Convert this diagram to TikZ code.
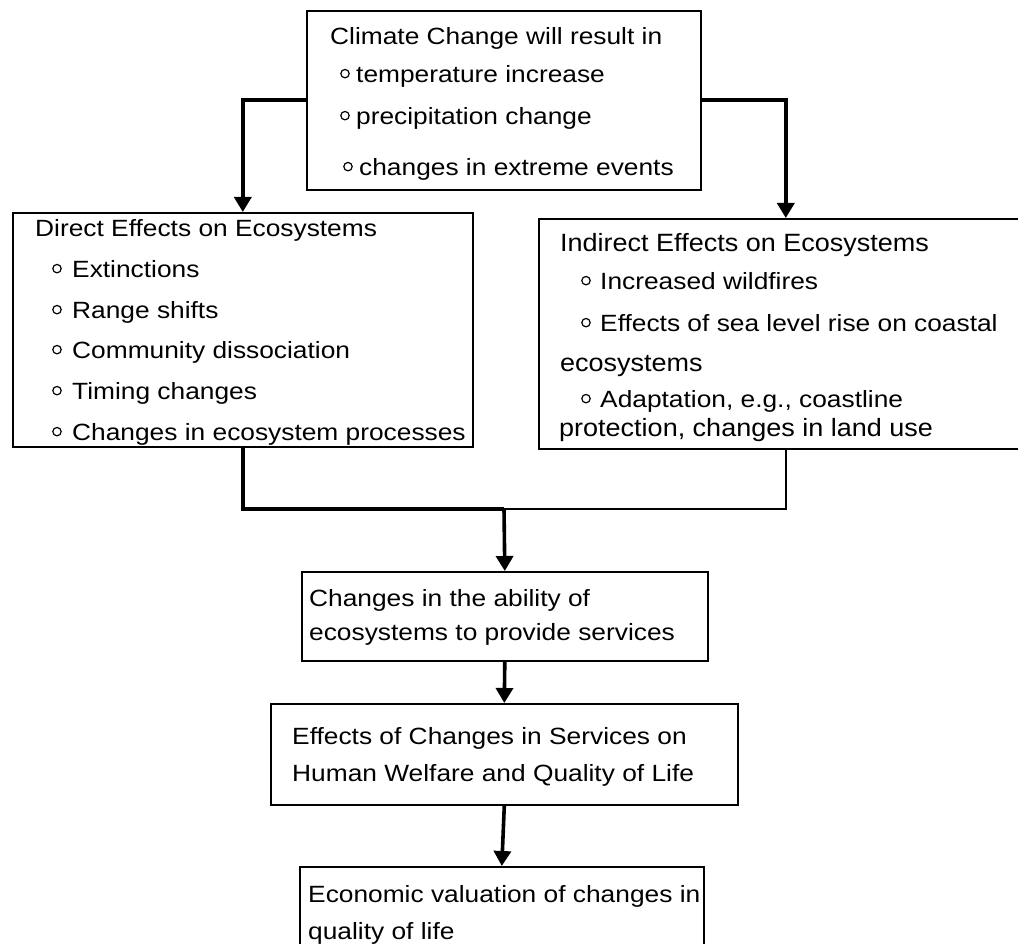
\documentclass[tikz,border=0pt]{standalone}
\usepackage{fontspec}
\setmainfont{Liberation Sans}[FakeStretch=1.12]
\newfontfamily\condfont{Liberation Sans}[FakeStretch=1.08]
\usetikzlibrary{positioning}
\usetikzlibrary{arrows.meta}

\newcommand{\bul}[1][20pt]{\makebox[#1][l]{\tikz[baseline=-9pt]\draw[line width=1.2pt] (4.8pt,0) circle[radius=4.2pt];}}

\tikzset{
  box/.style={draw, line width=1.6pt, anchor=north west, inner sep=0pt},
  txt/.style={anchor=mid west, inner sep=0pt, font=\fontsize{23.5}{28}\selectfont},
  cond/.style={anchor=mid west, inner sep=0pt, font=\condfont\fontsize{25}{30}\selectfont},
  conn/.style={line width=3.6pt},
  thinconn/.style={line width=1.6pt},
  tip/.style={-{Triangle[width=17pt,length=15pt]}}
}

\begin{document}
\begin{tikzpicture}[x=1pt,y=-1pt]
\useasboundingbox (0,0) rectangle (1018,944);
% boxes
\node[box, minimum width=394pt, minimum height=179pt] (clim) at (306,10) {};
\node[box, minimum width=460pt, minimum height=234pt] (direct) at (12,212) {};
\node[box, minimum width=494pt, minimum height=230pt] (indirect) at (538,218) {};
\node[box, minimum width=406pt, minimum height=89pt] (serv) at (301,571) {};
\node[box, minimum width=467pt, minimum height=101pt] (welf) at (270,703) {};
\node[box, minimum width=404pt, minimum height=90pt] (econ) at (299,866) {};

% texts
\node[txt] (climhead) at (330,42) {Climate Change will result in};
\node foreach \name/\y/\item in {clima/80/temperature increase,
  climb/122/precipitation change}
  [txt] (\name) at (340,\y) {\bul[16pt]\item};
\node[txt] (climc) at (343,173) {\bul[16pt]changes in extreme events};

\node[txt] (directhead) at (35,234) {Direct Effects on Ecosystems};
\node foreach \name/\y/\item in {da/275/Extinctions, db/316/Range shifts,
  dc/356/Community dissociation, dd/397/Timing changes,
  de/438/Changes in ecosystem processes}
  [txt] (\name) at (52,\y) {\bul\item};

\node[cond] (indirecthead) at (560,249) {Indirect Effects on Ecosystems};
\node foreach \name/\y/\item in {ia/287/Increased wildfires,
  ib/329/Effects of sea level rise on coastal,
  ic/405/{Adaptation, e.g., coastline}}
  [txt] (\name) at (581,\y) {\bul[19pt]\item};
\node[cond] (ibcont) at (560,369) {ecosystems};
\node[cond] (iccont) at (559,434) {protection, changes in land use};

\node[txt] (serva) at (309,604) {Changes in the ability of};
\node[txt] (servb) at (309,638) {ecosystems to provide services};
\node[txt] (welfa) at (292,742) {Effects of Changes in Services on};
\node[txt] (welfb) at (292,779) {Human Welfare and Quality of Life};
\node[txt] (econa) at (308,900) {Economic valuation of changes in};
\node[txt] (econb) at (308,937) {quality of life};

% connectors
\coordinate (jn) at (504,509);
\draw[conn, tip] (clim.west) -| (direct.north);
\draw[conn, tip] (clim.east) -| (indirect.north);
\draw[conn] (direct.south) |- (jn);
\draw[thinconn] (indirect.south) |- (jn);
\draw[conn, tip] (jn) -- (serv.north);
\draw[conn, tip] (serv.south) -- (welf.north);
\draw[conn, tip] (welf.south) -- (econ.north);
\end{tikzpicture}
\end{document}
